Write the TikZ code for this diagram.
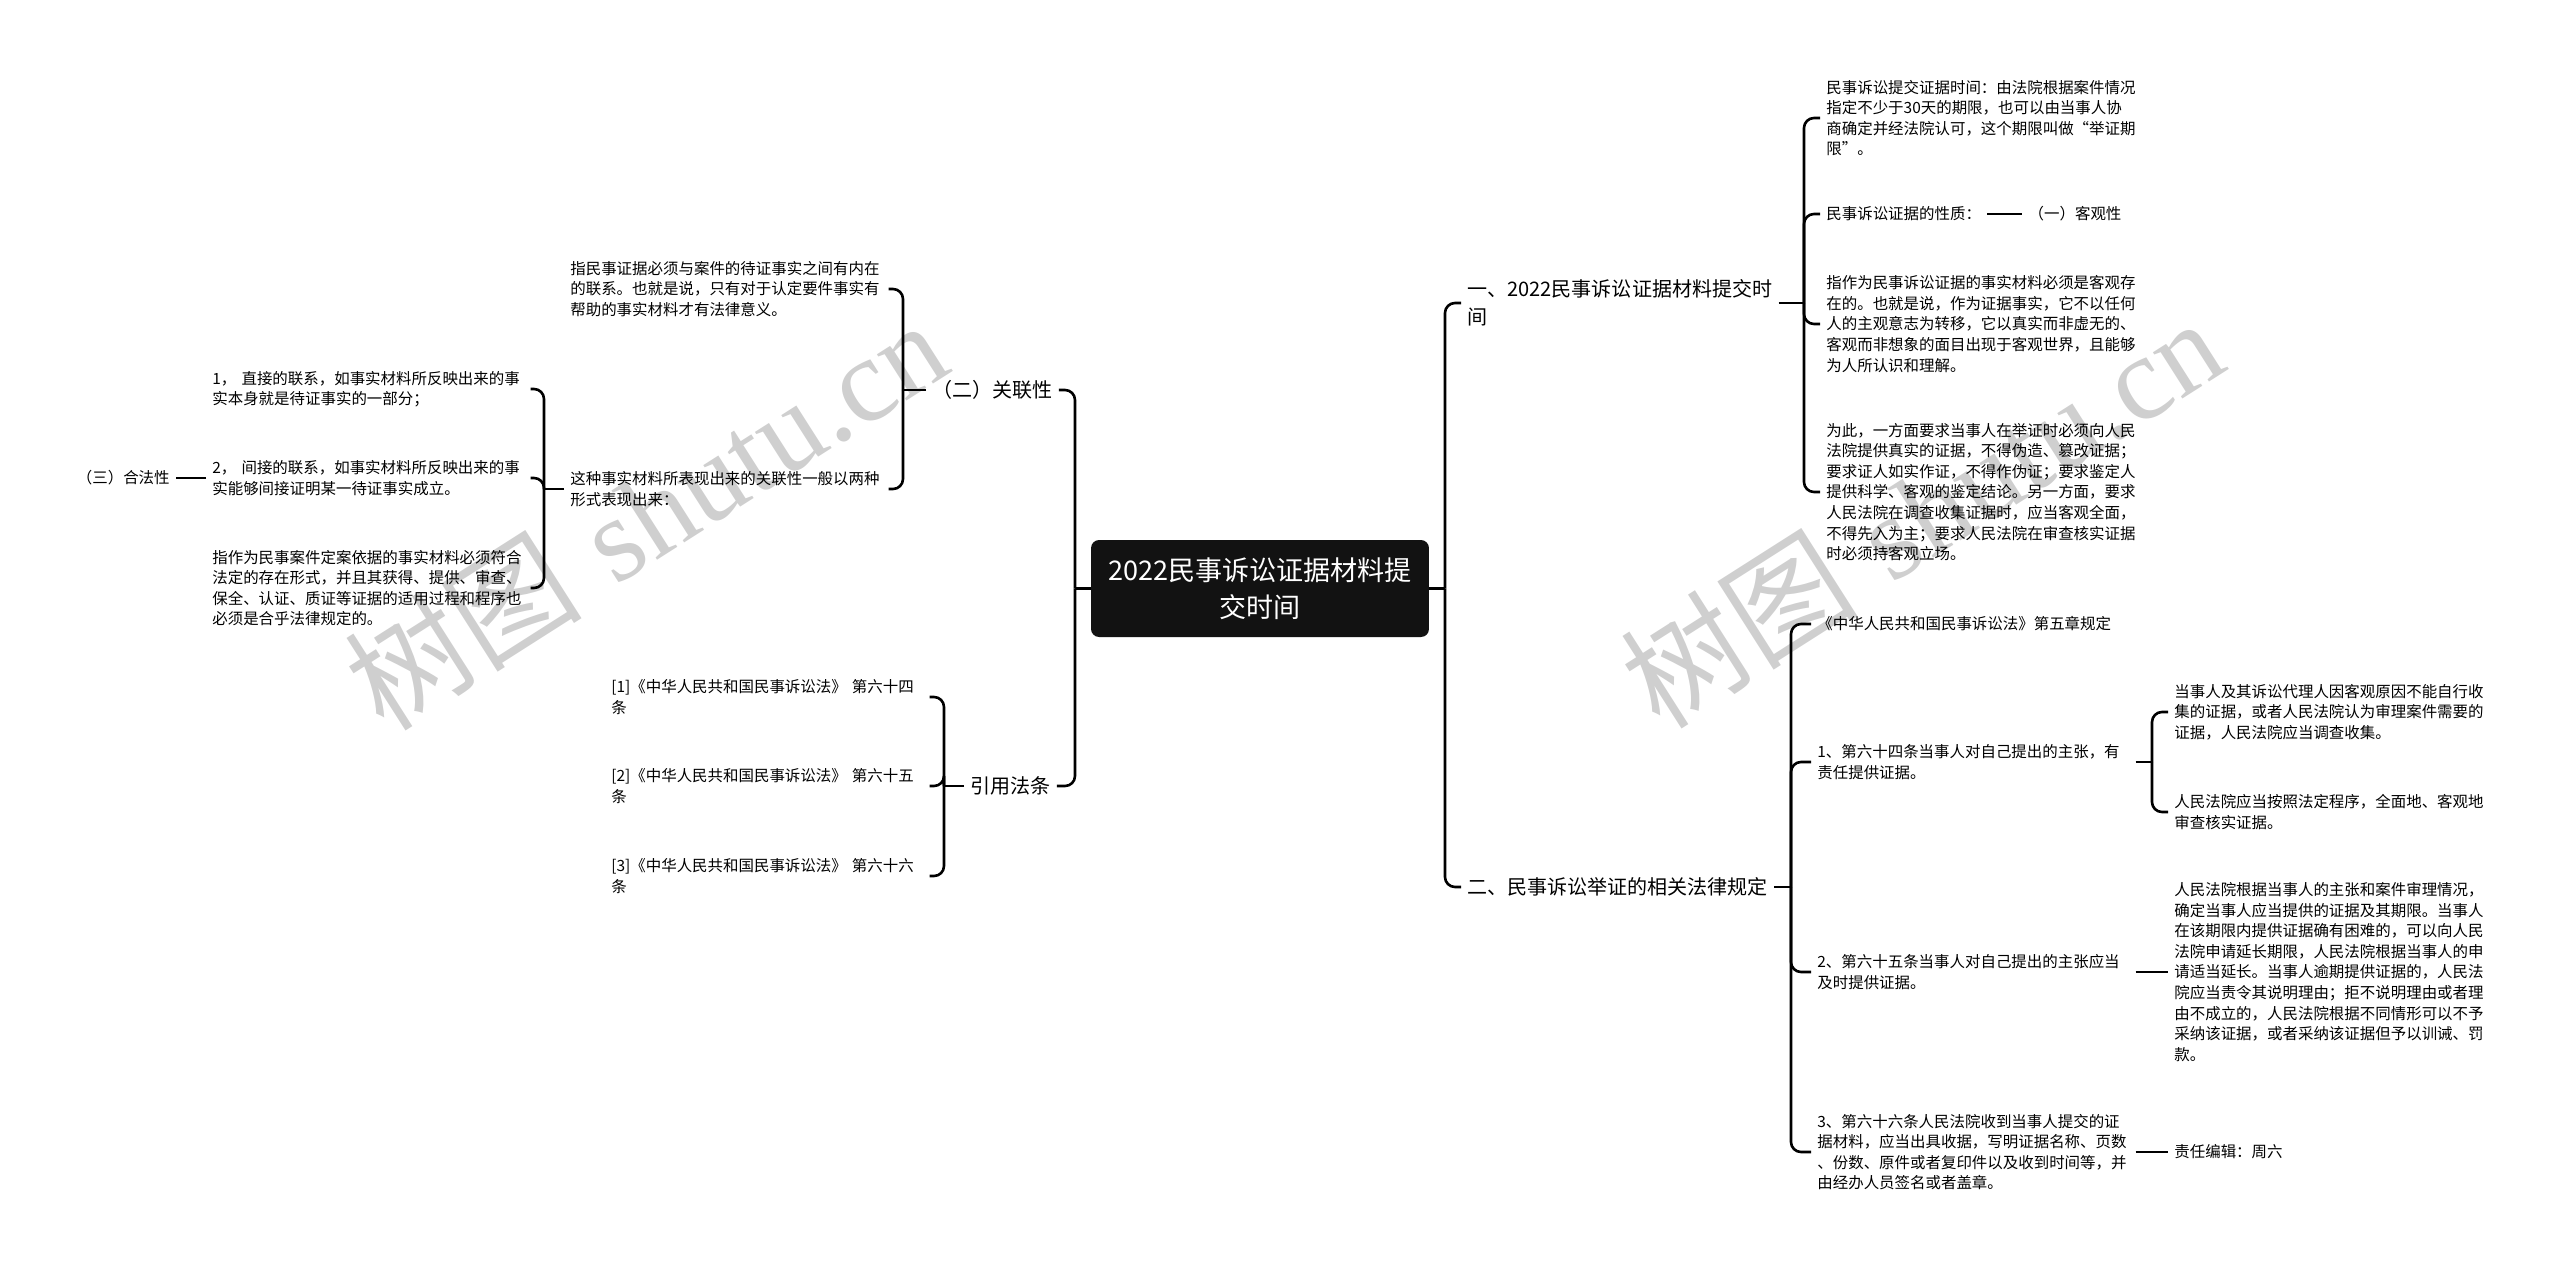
\documentclass[tikz,border=0pt]{standalone}
\usepackage{fontspec}
\setmainfont{Noto Sans CJK SC}
\newfontfamily\wmlatin{Liberation Serif}
\usetikzlibrary{positioning}

\begin{document}
\begin{tikzpicture}[
    x=0.02cm, y=-0.02cm,
    node distance=0.6cm,
    every node/.style={inner xsep=0.12cm, inner ysep=0.04cm},
    rootblock/.style={rectangle, fill=black!93, text=white, rounded corners=0.16cm, align=center, minimum width=6.76cm, minimum height=1.94cm, font=\fontsize{15.4pt}{21.3pt}\selectfont},
    topicblock/.style={anchor=west, align=left, font=\fontsize{11.4pt}{15.9pt}\selectfont},
    leafblock/.style={anchor=west, align=left, text width=6.24cm, font=\fontsize{8.8pt}{11.7pt}\selectfont},
    tagblock/.style={anchor=west, align=left, font=\fontsize{8.8pt}{11.7pt}\selectfont},
    watermark/.style={text=black!19, rotate=32.5, inner sep=0pt, font=\fontsize{68pt}{68pt}\selectfont},
    link/.style={draw, line width=0.052cm, rounded corners=0.2cm}
]

\useasboundingbox (0,0) rectangle (2560,1265);

\node[watermark] (wmleft) at (645,514) {树图\hspace{0.3em}{\wmlatin shutu.cn}};
\node[watermark] (wmright) at (1921,512) {树图\hspace{0.3em}{\wmlatin shutu.cn}};

\node[rootblock] (root) at (1260,588.5) {2022民事诉讼证据材料提\\交时间};

\node[topicblock] (sub1) at (1461,303) {一、2022民事诉讼证据材料提交时\\间};
\node[topicblock] (sub2) at (1461,887) {二、民事诉讼举证的相关法律规定};
\node[topicblock] (relev) at (926,390) {（二）关联性};
\node[topicblock] (lawref) at (964,786) {引用法条};

\coordinate (jroot) at (1445,588.5);
\coordinate (jleft) at (1075,588.5);
\coordinate (j1) at (1804,303);
\coordinate (j2) at (1791,887);
\coordinate (j64) at (2152,762);
\coordinate (jrel) at (903,390);
\coordinate (jform) at (544,489);
\coordinate (jref) at (944,786);

\node[leafblock] (period) at (1820,118) {民事诉讼提交证据时间：由法院根据案件情况\\指定不少于30天的期限，也可以由当事人协\\商确定并经法院认可，这个期限叫做“举证期\\限”。};
\node[tagblock] (nature) at (1820,214) {民事诉讼证据的性质：};
\node[tagblock, right=0.7cm of nature] (objective) {（一）客观性};
\node[leafblock] (objdef) at (1820,324) {指作为民事诉讼证据的事实材料必须是客观存\\在的。也就是说，作为证据事实，它不以任何\\人的主观意志为转移，它以真实而非虚无的、\\客观而非想象的面目出现于客观世界，且能够\\为人所认识和理解。};
\node[leafblock] (objreq) at (1820,492) {为此，一方面要求当事人在举证时必须向人民\\法院提供真实的证据，不得伪造、篡改证据；\\要求证人如实作证，不得作伪证；要求鉴定人\\提供科学、客观的鉴定结论。另一方面，要求\\人民法院在调查收集证据时，应当客观全面，\\不得先入为主；要求人民法院在审查核实证据\\时必须持客观立场。};

\node[tagblock] (chap5) at (1811,624) {《中华人民共和国民事诉讼法》第五章规定};
\node[leafblock] (art64) at (1811,762) {1、第六十四条当事人对自己提出的主张，有\\责任提供证据。};
\node[leafblock] (art65) at (1811,972) {2、第六十五条当事人对自己提出的主张应当\\及时提供证据。};
\node[leafblock] (art66) at (1811,1152) {3、第六十六条人民法院收到当事人提交的证\\据材料，应当出具收据，写明证据名称、页数\\、份数、原件或者复印件以及收到时间等，并\\由经办人员签名或者盖章。};
\node[leafblock] (art64a) at (2168,712) {当事人及其诉讼代理人因客观原因不能自行收\\集的证据，或者人民法院认为审理案件需要的\\证据，人民法院应当调查收集。};
\node[leafblock] (art64b) at (2168,812) {人民法院应当按照法定程序，全面地、客观地\\审查核实证据。};
\node[leafblock] (art65a) at (2168,972) {人民法院根据当事人的主张和案件审理情况，\\确定当事人应当提供的证据及其期限。当事人\\在该期限内提供证据确有困难的，可以向人民\\法院申请延长期限，人民法院根据当事人的申\\请适当延长。当事人逾期提供证据的，人民法\\院应当责令其说明理由；拒不说明理由或者理\\由不成立的，人民法院根据不同情形可以不予\\采纳该证据，或者采纳该证据但予以训诫、罚\\款。};
\node[tagblock] (editor) at (2168,1152) {责任编辑：周六};

\node[leafblock] (reldef) at (564,289) {指民事证据必须与案件的待证事实之间有内在\\的联系。也就是说，只有对于认定要件事实有\\帮助的事实材料才有法律意义。};
\node[leafblock] (relform) at (564,489) {这种事实材料所表现出来的关联性一般以两种\\形式表现出来：};
\node[leafblock] (direct) at (206,389) {1，~直接的联系，如事实材料所反映出来的事\\实本身就是待证事实的一部分；};
\node[leafblock] (indirect) at (206,478) {2，~间接的联系，如事实材料所反映出来的事\\实能够间接证明某一待证事实成立。};
\node[leafblock] (legal) at (206,588) {指作为民事案件定案依据的事实材料必须符合\\法定的存在形式，并且其获得、提供、审查、\\保全、认证、质证等证据的适用过程和程序也\\必须是合乎法律规定的。};
\node[tagblock, left=0.6cm of indirect] (legality) {（三）合法性};

\node[leafblock] (ref64) at (605,697) {[1]《中华人民共和国民事诉讼法》~第六十四\\条};
\node[leafblock] (ref65) at (605,786) {[2]《中华人民共和国民事诉讼法》~第六十五\\条};
\node[leafblock] (ref66) at (605,876) {[3]《中华人民共和国民事诉讼法》~第六十六\\条};

\draw[link] (root.east) -- (jroot);
\draw[link] (jroot) |- (sub1.west);
\draw[link] (jroot) |- (sub2.west);
\draw[link] (root.west) -- (jleft);
\draw[link] (jleft) |- (relev.east);
\draw[link] (jleft) |- (lawref.east);

\draw[link] (sub1.east) -- (j1);
\draw[link] (j1) |- (period.west);
\draw[link] (j1) |- (nature.west);
\draw[link] (j1) |- (objdef.west);
\draw[link] (j1) |- (objreq.west);
\draw[link] (nature.east) -- (objective.west);

\draw[link] (sub2.east) -- (j2);
\draw[link] (j2) |- (chap5.west);
\draw[link] (j2) |- (art64.west);
\draw[link] (j2) |- (art65.west);
\draw[link] (j2) |- (art66.west);
\draw[link] (art64.east) -- (j64);
\draw[link] (j64) |- (art64a.west);
\draw[link] (j64) |- (art64b.west);
\draw[link] (art65.east) -- (art65a.west);
\draw[link] (art66.east) -- (editor.west);

\draw[link] (relev.west) -- (jrel);
\draw[link] (jrel) |- (reldef.east);
\draw[link] (jrel) |- (relform.east);
\draw[link] (relform.west) -- (jform);
\draw[link] (jform) |- (direct.east);
\draw[link] (jform) |- (indirect.east);
\draw[link] (jform) |- (legal.east);
\draw[link] (indirect.west) -- (legality.east);

\draw[link] (lawref.west) -- (jref);
\draw[link] (jref) |- (ref64.east);
\draw[link] (jref) |- (ref65.east);
\draw[link] (jref) |- (ref66.east);

\end{tikzpicture}
\end{document}
